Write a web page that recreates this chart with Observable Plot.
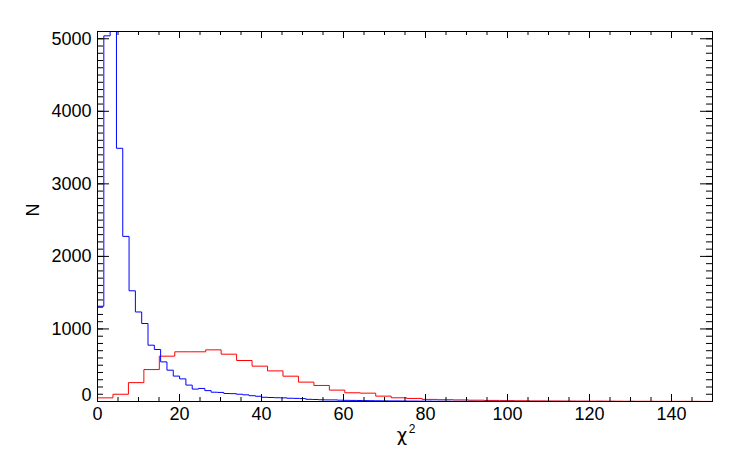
<!DOCTYPE html>
<html><head><meta charset="utf-8">
<script src="https://cdn.jsdelivr.net/npm/d3@7"></script>
<script src="https://cdn.jsdelivr.net/npm/@observablehq/plot@0.6"></script>
<style>body{margin:0;background:#fff}svg{display:block}</style>
</head><body><div id="chart"></div>
<script>
const xDomain = [0, 150];
const yDomain = [0, 5100];
const xTitle = "χ";
const xTitleSup = "2";
const yTitle = "N";

// red histogram: 40 bins
const redBinWidth = 3.77;
const redCounts = [50, 100, 260, 440, 625, 685, 685, 712, 652, 565, 487, 422, 349, 267, 221, 157,
  120, 115, 74, 51, 42, 29, 25, 22, 18, 15, 12, 10, 8, 7, 6, 5, 5, 4, 3, 3, 2, 2, 2, 1];

// blue histogram: narrow bins
const blueBinWidth = 1.54;
const blueCounts = [1313, 5040, 6500, 3490, 2276, 1526, 1234, 1075, 776, 717, 546, 432, 350, 312, 226, 171,
  180, 150, 128, 125, 110, 108, 100, 92, 80, 72, 58, 55, 52, 50, 45, 43, 40, 30, 28, 24, 22, 22, 18, 16,
  15, 14, 12, 11, 10, 9, 8, 8, 7, 6, 6, 5, 5, 4, 4, 4, 3, 3, 3, 3, 2, 2, 2, 2, 2, 2, 1, 1, 1, 1,
  1, 1, 1, 1, 1, 1, 1, 1, 0, 1, 0, 1, 0, 0, 1, 0, 0, 0, 0, 0, 0, 0, 0, 0, 0, 0, 0, 0];

const xMajorTicks = [0, 20, 40, 60, 80, 100, 120, 140];
const xMinorTicks = d3.range(0, 151, 5);
const yMajorTicks = [0, 1000, 2000, 3000, 4000, 5000];
const yMinorTicks = d3.range(0, 5101, 100);

function stepPoints(counts, w) {
  const pts = [{x: 0, y: 0}];
  counts.forEach((c, i) => pts.push({x: i * w, y: c}));
  pts.push({x: counts.length * w, y: 0});
  return pts;
}
const redPts = stepPoints(redCounts, redBinWidth);
const bluePts = stepPoints(blueCounts, blueBinWidth);

const W = 742, H = 464, ML = 97, MR = 30, MT = 31, MB = 63;
const innerW = W - ML - MR, innerH = H - MT - MB;
const font = "'Liberation Sans', Arial, Helvetica, sans-serif";

const chart = Plot.plot({
  width: W, height: H,
  marginLeft: ML, marginRight: MR, marginTop: MT, marginBottom: MB,
  style: {fontFamily: font, fontSize: "18px", background: "#fff", color: "#000"},
  x: {domain: xDomain, axis: null},
  y: {domain: yDomain, axis: null},
  marks: [
    Plot.line(redPts, {x: "x", y: "y", curve: "step-after", stroke: "#ff0000", strokeWidth: 1, clip: true}),
    Plot.line(bluePts, {x: "x", y: "y", curve: "step-after", stroke: "#0000ff", strokeWidth: 1, clip: true}),
    // x ticks bottom & top
    Plot.tickX(xMinorTicks, {x: d => d, insetTop: innerH - 4, stroke: "#000"}),
    Plot.tickX(xMajorTicks, {x: d => d, insetTop: innerH - 7, stroke: "#000"}),
    Plot.tickX(xMinorTicks, {x: d => d, insetBottom: innerH - 4, stroke: "#000"}),
    Plot.tickX(xMajorTicks, {x: d => d, insetBottom: innerH - 7, stroke: "#000"}),
    // y ticks left & right
    Plot.tickY(yMinorTicks, {y: d => d, insetRight: innerW - 6, stroke: "#000"}),
    Plot.tickY(yMajorTicks, {y: d => d, insetRight: innerW - 12, stroke: "#000"}),
    Plot.tickY(yMinorTicks, {y: d => d, insetLeft: innerW - 6, stroke: "#000"}),
    Plot.tickY(yMajorTicks, {y: d => d, insetLeft: innerW - 12, stroke: "#000"}),
    Plot.frame({stroke: "#000", strokeWidth: 1}),
    // tick labels
    Plot.text(xMajorTicks, {x: d => d, frameAnchor: "bottom", dy: 18, text: d => String(d), fontSize: 18, fill: "#000"}),
    Plot.text(yMajorTicks.filter(d => d !== 0), {y: d => d, frameAnchor: "left", dx: -6, textAnchor: "end", text: d => String(d), fontSize: 18, fill: "#000"}),
    Plot.text(yMajorTicks.filter(d => d === 0), {y: d => d, frameAnchor: "left", dx: -6, dy: -6, textAnchor: "end", text: d => String(d), fontSize: 18, fill: "#000"}),
    // axis titles
    Plot.text([xTitle], {frameAnchor: "bottom", dx: -3, dy: 39, text: d => d, fontSize: 18, fontFamily: "'DejaVu Sans', sans-serif", fill: "#000"}),
    Plot.text([xTitleSup], {frameAnchor: "bottom", dx: 7, dy: 31, text: d => d, fontSize: 12, fill: "#000"}),
    Plot.text([yTitle], {frameAnchor: "left", dx: -64, rotate: -90, text: d => d, fontSize: 18, fill: "#000"})
  ]
});
document.getElementById("chart").appendChild(chart);
</script>
</body></html>
